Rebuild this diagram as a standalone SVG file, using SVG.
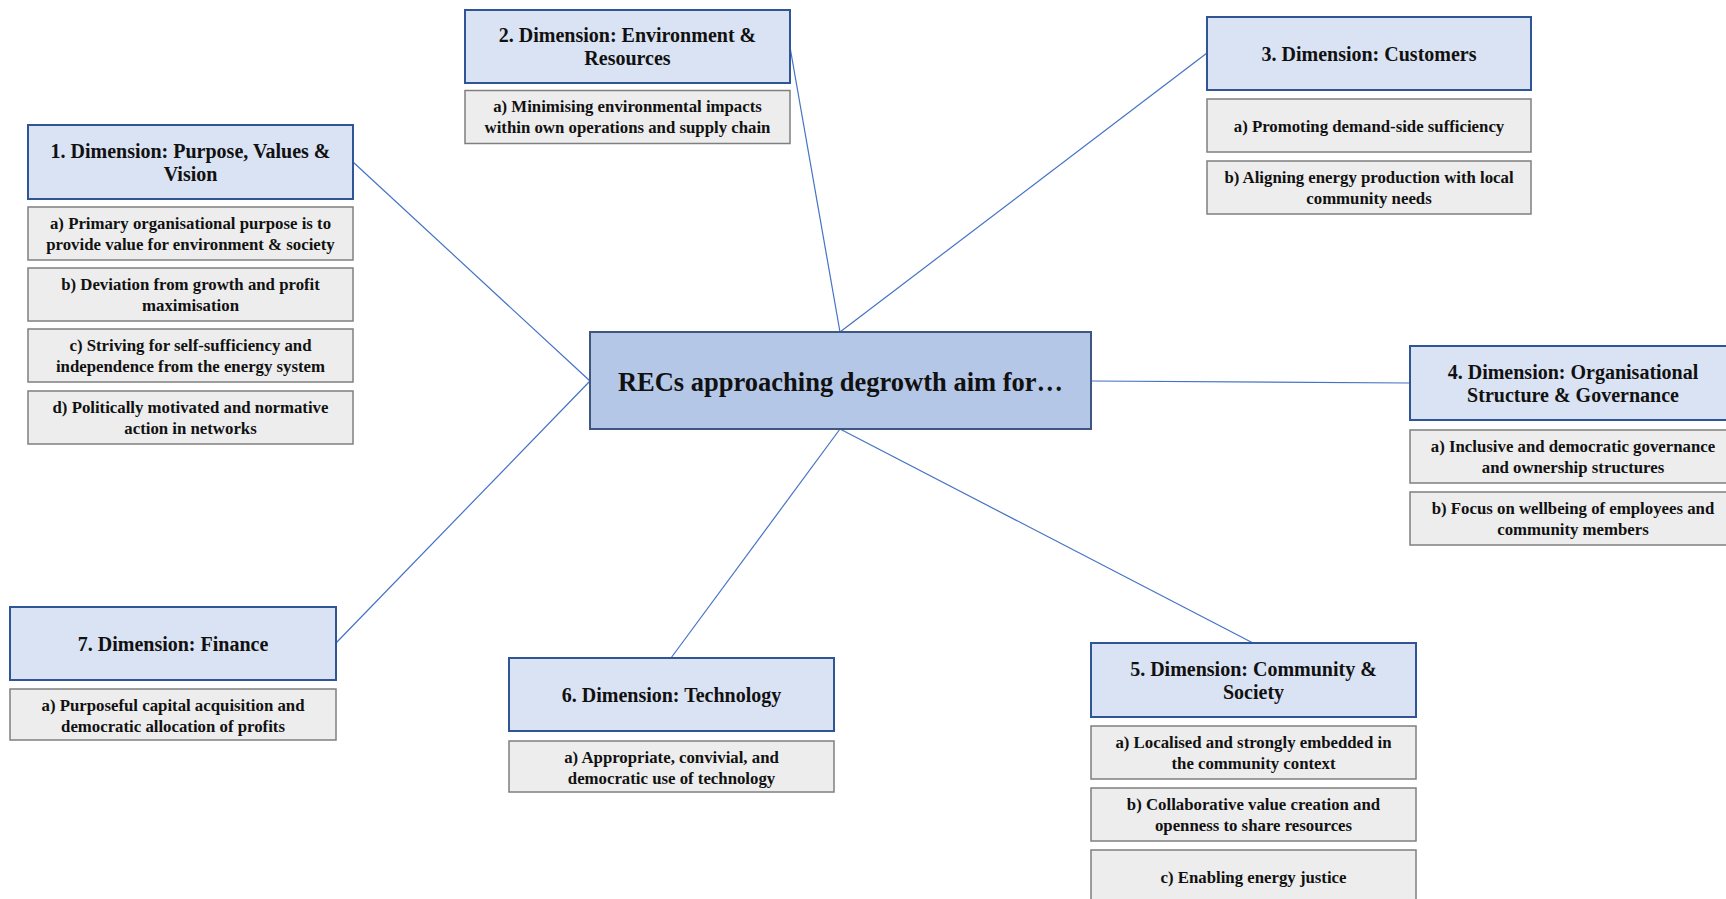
<svg xmlns="http://www.w3.org/2000/svg" width="1726" height="899" viewBox="0 0 1726 899">
<style>
.dim{fill:#DAE3F3;stroke:#2F5597;stroke-width:2}
.sub{fill:#EDEDED;stroke:#7F7F7F;stroke-width:1.5}
.ctr{fill:#B4C7E7;stroke:#3E5680;stroke-width:2}
.t{font-family:"Liberation Serif","Times New Roman",serif;font-weight:bold;fill:#111;text-anchor:middle}
.td{font-size:20px}
.ts{font-size:16.8px}
.tc{font-size:26.5px}
.con line{stroke:#4472C4;stroke-width:1.2}
</style>
<rect width="1726" height="899" fill="#fff"/>
<g class="con" id="connectors">
<line x1="353" y1="162" x2="590" y2="381"/>
<line x1="336" y1="643" x2="590" y2="381"/>
<line x1="790" y1="47" x2="840" y2="332"/>
<line x1="1207" y1="53" x2="840" y2="332"/>
<line x1="1410" y1="383" x2="1091" y2="381"/>
<line x1="1253" y1="643" x2="840" y2="429"/>
<line x1="671" y1="658" x2="840" y2="429"/>
</g>
<g id="center">
<rect class="ctr" x="590" y="332" width="501" height="97"/>
<text class="t tc" x="840.5" y="391">RECs approaching degrowth aim for…</text>
</g>
<g id="dim1">
<rect class="dim" x="28" y="125" width="325" height="74"/>
<text class="t td" x="190.5" y="158">1. Dimension: Purpose, Values &amp;</text>
<text class="t td" x="190.5" y="181">Vision</text>
<rect class="sub" x="28" y="207" width="325" height="53"/>
<text class="t ts" x="190.5" y="228.5">a) Primary organisational purpose is to</text>
<text class="t ts" x="190.5" y="249.5">provide value for environment &amp; society</text>
<rect class="sub" x="28" y="268" width="325" height="53"/>
<text class="t ts" x="190.5" y="289.5">b) Deviation from growth and profit</text>
<text class="t ts" x="190.5" y="310.5">maximisation</text>
<rect class="sub" x="28" y="329" width="325" height="53"/>
<text class="t ts" x="190.5" y="350.5">c) Striving for self-sufficiency and</text>
<text class="t ts" x="190.5" y="371.5">independence from the energy system</text>
<rect class="sub" x="28" y="391" width="325" height="53"/>
<text class="t ts" x="190.5" y="412.5">d) Politically motivated and normative</text>
<text class="t ts" x="190.5" y="433.5">action in networks</text>
</g>
<g id="dim2">
<rect class="dim" x="465" y="10" width="325" height="73"/>
<text class="t td" x="627.5" y="42">2. Dimension: Environment &amp;</text>
<text class="t td" x="627.5" y="65">Resources</text>
<rect class="sub" x="465" y="90.5" width="325" height="53"/>
<text class="t ts" x="627.5" y="112">a) Minimising environmental impacts</text>
<text class="t ts" x="627.5" y="133">within own operations and supply chain</text>
</g>
<g id="dim3">
<rect class="dim" x="1207" y="17" width="324" height="73"/>
<text class="t td" x="1369" y="61">3. Dimension: Customers</text>
<rect class="sub" x="1207" y="99" width="324" height="53"/>
<text class="t ts" x="1369" y="132">a) Promoting demand-side sufficiency</text>
<rect class="sub" x="1207" y="161" width="324" height="53"/>
<text class="t ts" x="1369" y="182.5">b) Aligning energy production with local</text>
<text class="t ts" x="1369" y="203.5">community needs</text>
</g>
<g id="dim4">
<rect class="dim" x="1410" y="346" width="326" height="74"/>
<text class="t td" x="1573" y="379">4. Dimension: Organisational</text>
<text class="t td" x="1573" y="402">Structure &amp; Governance</text>
<rect class="sub" x="1410" y="430" width="326" height="53"/>
<text class="t ts" x="1573" y="451.5">a) Inclusive and democratic governance</text>
<text class="t ts" x="1573" y="472.5">and ownership structures</text>
<rect class="sub" x="1410" y="492" width="326" height="53"/>
<text class="t ts" x="1573" y="513.5">b) Focus on wellbeing of employees and</text>
<text class="t ts" x="1573" y="534.5">community members</text>
</g>
<g id="dim5">
<rect class="dim" x="1091" y="643" width="325" height="74"/>
<text class="t td" x="1253.5" y="676">5. Dimension: Community &amp;</text>
<text class="t td" x="1253.5" y="699">Society</text>
<rect class="sub" x="1091" y="726" width="325" height="53"/>
<text class="t ts" x="1253.5" y="748">a) Localised and strongly embedded in</text>
<text class="t ts" x="1253.5" y="769">the community context</text>
<rect class="sub" x="1091" y="788" width="325" height="53"/>
<text class="t ts" x="1253.5" y="810">b) Collaborative value creation and</text>
<text class="t ts" x="1253.5" y="831">openness to share resources</text>
<rect class="sub" x="1091" y="850" width="325" height="53"/>
<text class="t ts" x="1253.5" y="883">c) Enabling energy justice</text>
</g>
<g id="dim6">
<rect class="dim" x="509" y="658" width="325" height="73"/>
<text class="t td" x="671.5" y="702">6. Dimension: Technology</text>
<rect class="sub" x="509" y="741" width="325" height="51"/>
<text class="t ts" x="671.5" y="763">a) Appropriate, convivial, and</text>
<text class="t ts" x="671.5" y="784">democratic use of technology</text>
</g>
<g id="dim7">
<rect class="dim" x="10" y="607" width="326" height="73"/>
<text class="t td" x="173" y="651">7. Dimension: Finance</text>
<rect class="sub" x="10" y="689" width="326" height="51"/>
<text class="t ts" x="173" y="711">a) Purposeful capital acquisition and</text>
<text class="t ts" x="173" y="732">democratic allocation of profits</text>
</g>
</svg>
